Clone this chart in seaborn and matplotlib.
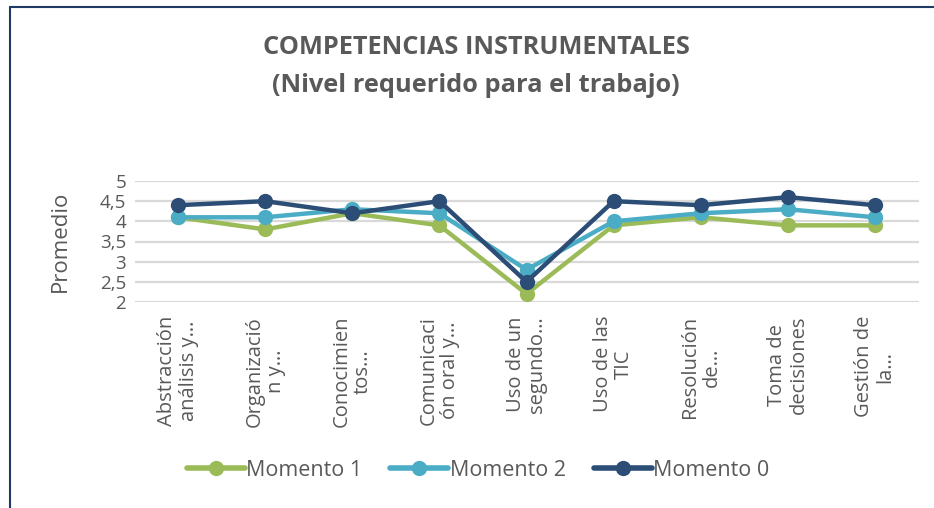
import pandas as pd
import numpy as np
import matplotlib.pyplot as plt
import seaborn as sns

# data
categorias = ["Abstracción\nanálisis y…", "Organizació\nn y…", "Conocimien\ntos…",
              "Comunicaci\nón oral y…", "Uso de un\nsegundo…", "Uso de las\nTIC",
              "Resolución\nde…", "Toma de\ndecisiones", "Gestión de\nla…"]
momento_1 = [4.1, 3.8, 4.2, 3.9, 2.2, 3.9, 4.1, 3.9, 3.9]
momento_2 = [4.1, 4.1, 4.3, 4.2, 2.8, 4.0, 4.2, 4.3, 4.1]
momento_0 = [4.4, 4.5, 4.2, 4.5, 2.5, 4.5, 4.4, 4.6, 4.4]
y_ticks = [2, 2.5, 3, 3.5, 4, 4.5, 5]
y_labels = ["2", "2,5", "3", "3,5", "4", "4,5", "5"]

series = {"Momento 1": momento_1, "Momento 2": momento_2, "Momento 0": momento_0}
colores = {"Momento 1": "#9BBB59", "Momento 2": "#4BACC6", "Momento 0": "#2C4D75"}

df = pd.DataFrame([
    {"pos": i, "serie": s, "valor": v}
    for s, vals in series.items() for i, v in enumerate(vals)
])

sns.set_style("white")
plt.rcParams['font.family'] = ['Open Sans', 'DejaVu Sans']

fig = plt.figure(figsize=(9.34, 5.08), dpi=100)
ax = fig.add_axes([134.5 / 934, 1 - 302 / 508, 784 / 934, 121 / 508])

sns.lineplot(data=df, x="pos", y="valor", hue="serie", palette=colores,
             hue_order=list(series.keys()), sort=False, marker="o",
             markersize=11, markeredgewidth=0, linewidth=3.2, ax=ax)

ax.set_xlim(-0.5, len(categorias) - 0.5)
ax.set_ylim(2, 5)
ax.set_yticks(y_ticks)
ax.set_yticklabels(y_labels, fontsize=13.5, color="#595959")
ax.set_xticks(range(len(categorias)))
ax.set_xticklabels(categorias, rotation=90, fontsize=14.5, color="#595959",
                   ha="center", va="top", multialignment="center", linespacing=1.1)
ax.tick_params(axis="both", length=0, pad=6)
ax.tick_params(axis="x", pad=10)
ax.grid(axis="y", color="#D9D9D9", linewidth=1.6)
ax.set_axisbelow(True)
for sp in ax.spines.values():
    sp.set_visible(False)
ax.set_xlabel("")
ax.set_ylabel("Promedio", fontsize=16, color="#595959", labelpad=21)

# legend
handles, labels = ax.get_legend_handles_labels()
ax.legend_.remove()
for h in handles:
    h.set_linewidth(4)
    h.set_markersize(11)
fig.legend(handles, labels, loc="center", bbox_to_anchor=(478 / 934, 1 - 470 / 508),
           ncol=3, frameon=False, fontsize=15.5, handlelength=2.7, columnspacing=1.3,
           handletextpad=0.05, labelcolor="#595959")

# title
fig.text(476 / 934, 1 - 47 / 508, "COMPETENCIAS INSTRUMENTALES", ha="center", va="center",
         fontsize=18.3, fontweight="bold", color="#595959")
fig.text(476 / 934, 1 - 85 / 508, "(Nivel requerido para el trabajo)", ha="center", va="center",
         fontsize=18.3, fontweight="bold", color="#595959")

# chart frame (top and left edges visible)
fig.add_artist(plt.Line2D([9.5 / 934, 1], [1 - 7 / 508, 1 - 7 / 508], color="#1F3864", linewidth=1.5))
fig.add_artist(plt.Line2D([9.5 / 934, 9.5 / 934], [0, 1 - 7 / 508], color="#1F3864", linewidth=1.5))

fig.savefig("out.png", dpi=100)
